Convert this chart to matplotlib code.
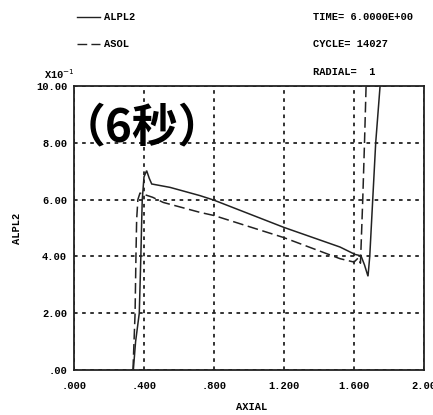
import numpy as np
import matplotlib.pyplot as plt
from matplotlib.lines import Line2D

# ALPL2 / ASOL along the axial direction (values in units of 1e-1)
alpl2_x = [0.339, 0.352, 0.373, 0.382, 0.387, 0.390, 0.400, 0.415, 0.430, 0.444,
           0.549, 0.720, 0.800, 1.200, 1.520, 1.606, 1.640, 1.660, 1.680,
           1.690, 1.707, 1.724, 1.749, 1.764]
alpl2_y = [0.00, 1.00, 2.00, 4.00, 5.30, 6.00, 6.80, 7.02, 6.75, 6.55,
           6.43, 6.14, 5.98, 5.02, 4.33, 4.07, 4.02, 3.70, 3.30,
           4.00, 6.00, 8.00, 10.00, 10.30]

asol_x = [0.337, 0.349, 0.354, 0.358, 0.365, 0.377, 0.450, 0.510, 0.720, 0.800,
          1.200, 1.520, 1.600, 1.625, 1.637, 1.650, 1.660, 1.670]
asol_y = [0.00, 2.00, 4.00, 5.30, 6.00, 6.23, 6.08, 5.90, 5.55, 5.44,
          4.66, 3.92, 3.80, 3.95, 3.76, 6.00, 8.00, 10.20]

xticks = [0.0, 0.4, 0.8, 1.2, 1.6, 2.0]
xtick_labels = ['.000', '.400', '.800', '1.200', '1.600', '2.00']
yticks = [0, 2, 4, 6, 8, 10]
ytick_labels = ['.00', '2.00', '4.00', '6.00', '8.00', '10.00']

W, H = 433, 415
fig = plt.figure(figsize=(W / 100, H / 100), dpi=100)
ax = fig.add_axes([74 / W, 1 - 370 / H, 350 / W, 284 / H])

mono = dict(family='Liberation Mono', weight='bold', size=7.5)

ax.plot(alpl2_x, alpl2_y, color='#222222', lw=1.1, solid_joinstyle='miter')
ax.plot(asol_x, asol_y, color='#222222', lw=1.1, linestyle=(0, (7, 3)))

ax.set_xlim(0, 2.0)
ax.set_ylim(0, 10)
ax.set_xticks(xticks)
ax.set_xticklabels(xtick_labels, fontdict=mono)
ax.set_yticks(yticks)
ax.set_yticklabels(ytick_labels, fontdict=mono)
ax.tick_params(length=0, pad=5)
ax.tick_params(axis='x', pad=8)
ax.grid(True, color='#222222', linestyle=(0, (2, 2.5)), lw=1.3)
for s in ax.spines.values():
    s.set_linewidth(1.3)
    s.set_color('#222222')


def px(x, y):
    return x / W, 1 - y / H


# header block
fig.add_artist(Line2D([77 / W, 100 / W], [1 - 17 / H] * 2, color='#222222', lw=1.0))
fig.text(*px(104, 17), 'ALPL2', va='center', ha='left', **mono)
fig.add_artist(Line2D([77 / W, 100 / W], [1 - 44 / H] * 2, color='#222222', lw=1.0,
                      linestyle=(0, (7, 3))))
fig.text(*px(104, 44), 'ASOL', va='center', ha='left', **mono)
fig.text(*px(313, 17), 'TIME= 6.0000E+00', va='center', ha='left', **mono)
fig.text(*px(313, 44), 'CYCLE= 14027', va='center', ha='left', **mono)
fig.text(*px(313, 72), 'RADIAL=  1', va='center', ha='left', **mono)
fig.text(*px(44, 74), r'X10$^{-1}$', va='center', ha='left', **mono)

fig.text(*px(252, 407), 'AXIAL', va='center', ha='center', **mono)
fig.text(*px(17, 228), 'ALPL2', va='center', ha='center', rotation=90, **mono)

fig.text(*px(60, 128), '（6秒）', va='center', ha='left', fontsize=33, weight='bold',
         family=['Noto Sans CJK SC', 'DejaVu Sans'], color='black')

fig.savefig('out.png', dpi=100, facecolor='white')
